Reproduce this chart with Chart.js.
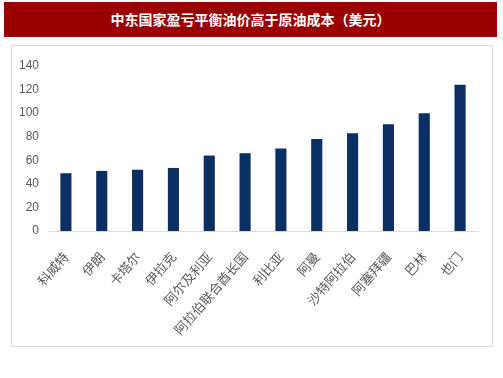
<!DOCTYPE html>
<html>
<head>
<meta charset="utf-8">
<script src="https://cdn.jsdelivr.net/npm/chart.js@4/dist/chart.umd.min.js"></script>
<style>
  html, body { margin: 0; padding: 0; background: #ffffff; width: 503px; height: 378px; overflow: hidden; }
  #title { position: absolute; left: 4px; top: 2px; width: 493px; height: 35px; background: #990000;
    color: #ffffff; font-family: "Noto Sans CJK SC", sans-serif; font-weight: bold; font-size: 14px;
    line-height: 35px; text-align: center; }
  #box { position: absolute; left: 11px; top: 45px; width: 480px; height: 300px; border: 1px solid #d9d9d9; }
  #box canvas { display: block; }
</style>
</head>
<body>
<div id="title">中东国家盈亏平衡油价高于原油成本（美元）</div>
<div id="box"><canvas id="c" width="480" height="300"></canvas></div>
<script>
const categories = ["科威特", "伊朗", "卡塔尔", "伊拉克", "阿尔及利亚", "阿拉伯联合酋长国", "利比亚", "阿曼", "沙特阿拉伯", "阿塞拜疆", "巴林", "也门"];
const breakevenPrice = [49, 51, 52, 53.5, 64, 66, 70, 78, 83, 90.5, 100, 124];
const yTicks = [0, 20, 40, 60, 80, 100, 120, 140];

new Chart(document.getElementById('c'), {
  type: 'bar',
  data: {
    labels: categories,
    datasets: [{
      data: breakevenPrice,
      backgroundColor: '#0b2f62',
      borderWidth: 0,
      categoryPercentage: 1,
      barPercentage: 0.31
    }]
  },
  options: {
    responsive: false,
    animation: false,
    layout: { padding: { top: 20, right: 14, left: 0, bottom: 0 } },
    plugins: { legend: { display: false }, tooltip: { enabled: false }, title: { display: false } },
    scales: {
      x: {
        grid: { display: false },
        border: { display: true, color: '#d9d9d9', width: 1 },
        ticks: {
          color: '#595959', minRotation: 49, maxRotation: 49, autoSkip: false, padding: 10,
          font: { family: '"Noto Sans CJK SC", sans-serif', size: 13 }
        },
        afterFit: (s) => { s.height = 115; }
      },
      y: {
        min: 0, max: 140,
        afterBuildTicks: (s) => { s.ticks = yTicks.map(v => ({ value: v })); },
        grid: { display: false, drawTicks: false },
        border: { display: false },
        ticks: {
          color: '#595959', padding: 9,
          font: { family: '"Liberation Sans", Arial, sans-serif', size: 12 }
        },
        afterFit: (s) => { s.width = 36; }
      }
    }
  }
});
</script>
</body>
</html>
